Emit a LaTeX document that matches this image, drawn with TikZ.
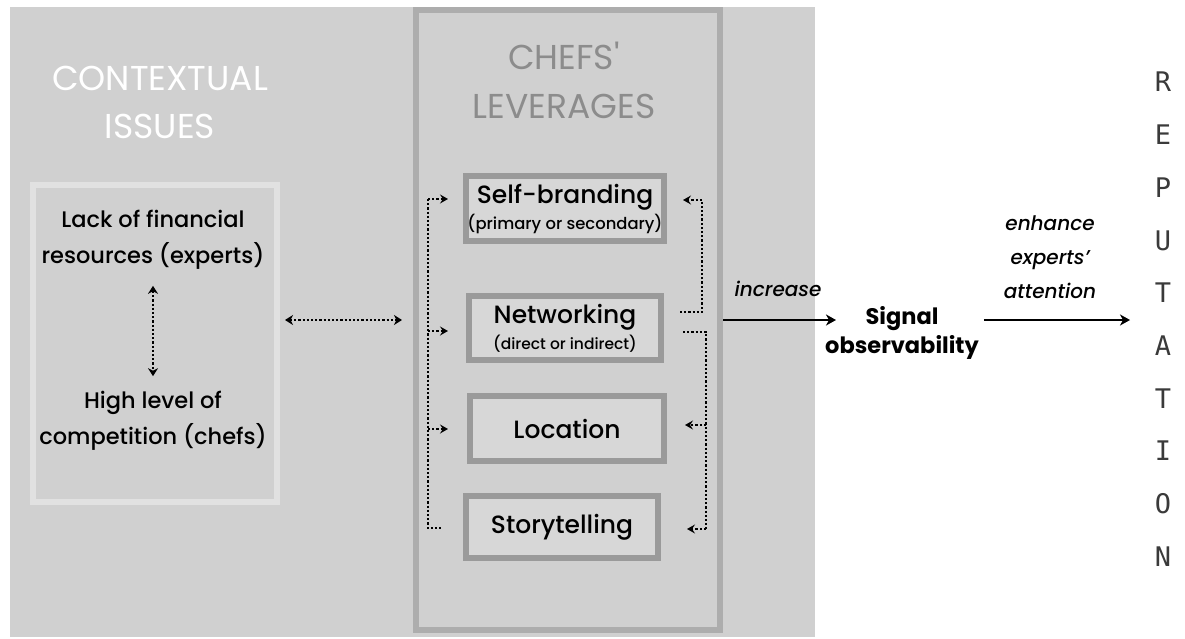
\documentclass[tikz,border=0pt]{standalone}
\usepackage{fontspec}
\setmainfont{Poppins Medium}[BoldFont={Poppins Bold}, ItalicFont={Poppins Medium Italic}]
\newfontfamily\titlefont{Poppins}
\newfontfamily\repfont{DejaVu Sans Mono}
\usetikzlibrary{arrows.meta,calc}
\definecolor{bgg}{HTML}{D0D0D0}
\definecolor{levb}{HTML}{ADADAD}
\definecolor{itemb}{HTML}{9A9A9A}
\definecolor{itemf}{HTML}{D7D7D7}
\definecolor{ctxb}{HTML}{E1E1E1}
\definecolor{ttl}{HTML}{8C8C8C}
\definecolor{repc}{HTML}{3A3A3A}
\tikzset{
  itembox/.style={draw=itemb, fill=itemf, line width=6pt, inner sep=0pt, align=center, font=\fontsize{25}{30}\selectfont},
  dotline/.style={line width=2.8pt, dash pattern=on 2.2pt off 2pt, black},
  dothead/.style={dotline, -{Stealth[length=8pt,width=9pt,inset=3pt]}},
  dotboth/.style={dotline, {Stealth[length=8pt,width=10pt,inset=2.5pt]}-{Stealth[length=8pt,width=10pt,inset=2.5pt]}},
  solidarrow/.style={line width=2.8pt, -{Stealth[length=10pt,width=11pt,inset=3pt]}},
  bodytext/.style={align=center, inner sep=0pt, font=\fontsize{22.5}{36}\selectfont},
  titletext/.style={align=center, inner sep=0pt},
  labeltext/.style={align=center, inner sep=0pt, font=\fontsize{20}{34}\selectfont\itshape},
  repletter/.style={inner sep=0pt, text=repc, font=\repfont\fontsize{27}{30}\selectfont},
}
\begin{document}
\begin{tikzpicture}[x=1pt,y=-1pt]
\useasboundingbox (0,0) rectangle (1185,639);
\fill[white] (0,0) rectangle (1185,639);
% backgrounds
\node[fill=bgg, minimum width=805pt, minimum height=630pt, inner sep=0pt, anchor=north west] (bg) at (10,7) {};
\node[draw=levb, line width=6pt, minimum width=304pt, minimum height=620pt, inner sep=0pt] (lev) at (568,320) {};
\node[draw=ctxb, line width=6pt, minimum width=244pt, minimum height=317pt, inner sep=0pt] (ctx) at (155,343.5) {};
% titles
\node[titletext, text=white, font=\titlefont\fontsize{34.5}{48}\selectfont] (ctxt) at (160,102.5) {CONTEXTUAL\\ISSUES};
\node[titletext, text=ttl, font=\titlefont\fontsize{34.5}{49}\selectfont] (levt) at (564,80.5) {CHEFS\symbol{"27}\\LEVERAGES};
% contextual issues
\node[bodytext] (lack) at (153,240) {Lack of financial\\resources (experts)};
\node[bodytext] (high) at (153,421) {High level of\\competition (chefs)};
\draw[dotboth] ([yshift=-16pt]lack.south) -- ([yshift=15pt]high.north);
\coordinate (h1) at (ctx.east |- lev.west);
\draw[dotboth] ([xshift=5pt]h1) -- ([xshift=-11pt]lev.west);
% leverage items
\node[itembox, minimum width=198pt, minimum height=65pt] (self) at (565,208.5) {Self-branding\\[-4pt]{\fontsize{16.4}{20}\selectfont (primary or secondary)}};
\node[itembox, minimum width=192pt, minimum height=64pt] (net) at (565,328) {Networking\\[-4pt]{\fontsize{15.5}{20}\selectfont (direct or indirect)}};
\node[itembox, minimum width=194pt, minimum height=65pt] (loc) at (567,428.5) {Location};
\node[itembox, minimum width=192pt, minimum height=62pt] (sto) at (562,527) {Storytelling};
% left dotted bracket
\coordinate (L1) at (428,199);
\coordinate (L2) at (428,331);
\coordinate (L3) at (428,429);
\coordinate (L4) at (428,528);
\draw[dotline] (L1) -- (L4) -- (L4 -| 443,0);
\draw[dothead] (L1) -- ([xshift=-15pt]self.west |- L1);
\draw[dothead] (L2) -- ([xshift=-18pt]net.west |- L2);
\draw[dothead] (L3) -- ([xshift=-19pt]loc.west |- L3);
% right dotted brackets
\coordinate (R1a) at (680,312);
\coordinate (R1b) at (702,312);
\coordinate (R1c) at (702,200);
\draw[dotline] (R1a) -- (R1b) -- (R1c);
\draw[dothead] (R1c) -- ([xshift=16pt]self.east |- R1c);
\coordinate (R2a) at (683,332);
\coordinate (R2b) at (706,332);
\coordinate (R2c) at (706,529);
\coordinate (R2d) at (706,425);
\draw[dotline] (R2a) -- (R2b) -- (R2c);
\draw[dothead] (R2d) -- ([xshift=18pt]loc.east |- R2d);
\draw[dothead] (R2c) -- ([xshift=26pt]sto.east |- R2c);
% signal observability
\node[align=center, inner sep=0pt, font=\fontsize{22.5}{29}\selectfont\bfseries] (sig) at (902,333) {Signal\\observability};
\coordinate (tip1) at (836,320);
\draw[solidarrow] (lev.east) -- (tip1);
\node[labeltext] (incr) at (778,289) {increase};
\coordinate (tip2) at (1130,320);
\draw[solidarrow] ($(sig.east |- lev.east)+(5,0)$) -- (tip2);
\node[labeltext] (enh) at (1050,257) {enhance\\experts\symbol{"27}\\attention};
% reputation
\foreach \l [count=\i] in {R,E,P,U,T,A,T,I,O,N}
  \node[repletter, anchor=base] (rep\i) at (1163,{92+52.7*(\i-1)}) {\l};
\end{tikzpicture}
\end{document}
